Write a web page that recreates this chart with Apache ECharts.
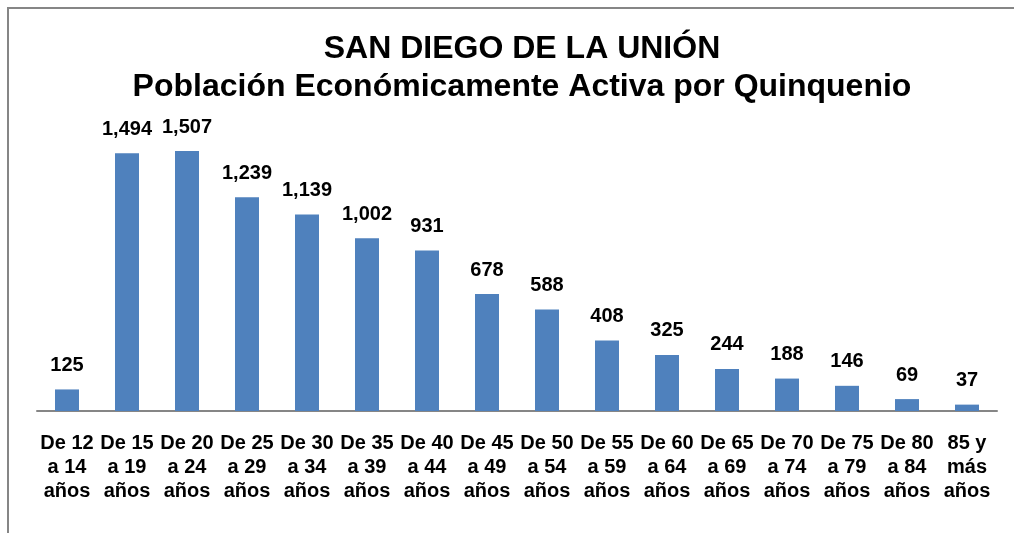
<!DOCTYPE html>
<html>
<head>
<meta charset="utf-8">
<script src="https://cdn.jsdelivr.net/npm/echarts@6/dist/echarts.min.js"></script>
<style>
  html, body { margin: 0; padding: 0; background: #fff; }
  #chart { width: 1014px; height: 533px; }
</style>
</head>
<body>
<div id="chart"></div>
<script>
var categories = ['De 12\na 14\naños', 'De 15\na 19\naños', 'De 20\na 24\naños', 'De 25\na 29\naños',
  'De 30\na 34\naños', 'De 35\na 39\naños', 'De 40\na 44\naños', 'De 45\na 49\naños',
  'De 50\na 54\naños', 'De 55\na 59\naños', 'De 60\na 64\naños', 'De 65\na 69\naños',
  'De 70\na 74\naños', 'De 75\na 79\naños', 'De 80\na 84\naños', '85 y\nmás\naños']
var values = [125, 1494, 1507, 1239, 1139, 1002, 931, 678, 588, 408, 325, 244, 188, 146, 69, 37]
var titleLines = ['SAN DIEGO DE LA UNIÓN', 'Población Económicamente Activa por Quinquenio']

var font = '"Liberation Sans", Arial, sans-serif'
var myChart = echarts.init(document.getElementById('chart'))

var option = {
  animation: false,
  graphic: [
    {
      type: 'polyline',
      shape: { points: [[8, 533], [8, 8], [1014, 8]] },
      style: { stroke: '#868686', lineWidth: 2, fill: null }
    }
  ],
  title: {
    text: titleLines.join('\n'),
    left: 517,
    textAlign: 'center',
    top: 25,
    textStyle: {
      fontFamily: font,
      fontWeight: 'bold',
      fontSize: 32,
      lineHeight: 38,
      color: '#000'
    }
  },
  grid: {
    left: 37,
    right: 17,
    top: 135,
    bottom: 122,
    containLabel: false
  },
  xAxis: {
    type: 'category',
    data: categories,
    axisLine: { lineStyle: { color: '#868686', width: 2 } },
    axisTick: { show: false },
    axisLabel: {
      interval: 0,
      margin: 20,
      fontFamily: font,
      fontWeight: 'bold',
      fontSize: 20,
      lineHeight: 24,
      color: '#000'
    }
  },
  yAxis: {
    type: 'value',
    min: 0,
    max: 1600,
    show: false,
    splitLine: { show: false }
  },
  series: [
    {
      type: 'bar',
      data: values,
      barWidth: '40%',
      itemStyle: { color: '#4F81BD' },
      label: {
        show: true,
        position: 'top',
        distance: 14,
        fontFamily: font,
        fontWeight: 'bold',
        fontSize: 20,
        color: '#000',
        formatter: function (p) {
          return p.value.toLocaleString('en-US')
        }
      }
    }
  ]
}

myChart.setOption(option)
</script>
</body>
</html>
